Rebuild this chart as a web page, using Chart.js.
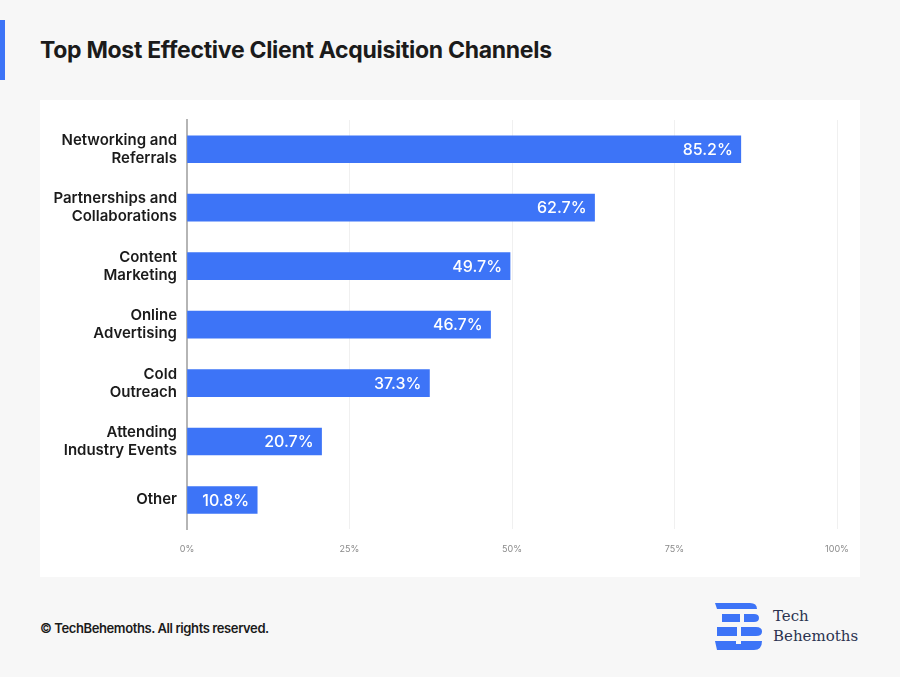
<!DOCTYPE html>
<html>
<head>
<meta charset="utf-8">
<script src="https://cdn.jsdelivr.net/npm/chart.js@4"></script>
<style>
    html, body { margin: 0; padding: 0; }
    body {
        width: 900px; height: 677px; background: #f7f7f7;
        position: relative; overflow: hidden;
        font-family: Inter, Roboto, sans-serif; color: #1b1b1b;
    }
    .accent { position: absolute; left: 0; top: 20px; width: 5px; height: 60px; background: #3d74f7; }
    h1 { position: absolute; left: 40px; top: 36px; margin: 0; font-size: 23px; font-weight: 700; letter-spacing: -0.3px; }
    .panel { position: absolute; left: 40px; top: 100px; width: 820px; height: 477px; background: #fff; }
    .footer { position: absolute; left: 40px; top: 620px; font-size: 13px; font-weight: 600; letter-spacing: -0.4px; }
    .logo { position: absolute; left: 714px; top: 602px; }
    .logo-text {
        position: absolute; left: 773px; top: 606px; font-family: "DejaVu Serif", serif;
        font-size: 15px; line-height: 20px; color: #2b3350;
    }
</style>
</head>
<body>
<div class="accent"></div>
<h1>Top Most Effective Client Acquisition Channels</h1>
<div class="panel"><canvas id="chart" width="820" height="477"></canvas></div>
<div class="footer">© TechBehemoths. All rights reserved.</div>
<svg class="logo" width="50" height="50" viewBox="0 0 50 50">
    <g fill="#3d74f7">
        <path d="M1 1 H36 Q43 1 43 7 H3 Z"/>
        <rect x="8" y="12" width="18" height="8"/>
        <path d="M30 12 H40 Q45 12 45 16 Q45 20 40 20 H30 Z"/>
        <rect x="3" y="25" width="20" height="9"/>
        <path d="M27 25 H42 Q48 25 48 29.5 Q48 34 42 34 H27 Z"/>
        <path d="M1 39 H22 V42 H27 V39 H48 Q48 48 40 48 H3 Z"/>
    </g>
</svg>
<div class="logo-text">Tech<br>Behemoths</div>
<script>
// ================= Data =================
const channels = [
    ["Networking and", "Referrals"],
    ["Partnerships and", "Collaborations"],
    ["Content", "Marketing"],
    ["Online", "Advertising"],
    ["Cold", "Outreach"],
    ["Attending", "Industry Events"],
    "Other"
];
const shares = [85.2, 62.7, 49.7, 46.7, 37.3, 20.7, 10.8];
const xTicks = [0, 25, 50, 75, 100];

// ================= Value labels =================
const valueLabels = {
    id: "valueLabels",
    afterDatasetsDraw(chart) {
        const ctx = chart.ctx;
        const meta = chart.getDatasetMeta(0);
        ctx.save();
        ctx.fillStyle = "#ffffff";
        ctx.font = "500 16px Inter, sans-serif";
        ctx.textAlign = "right";
        ctx.textBaseline = "middle";
        meta.data.forEach((bar, i) => {
            ctx.fillText(shares[i].toFixed(1) + "%", bar.x - 8, bar.y + 1);
        });
        ctx.restore();
    }
};

// ================= Chart =================
const ctx = document.getElementById("chart").getContext("2d");

new Chart(ctx, {
    type: "bar",
    data: {
        labels: channels,
        datasets: [{
            data: shares,
            backgroundColor: "#3d74f7",
            barThickness: 27
        }]
    },
    options: {
        indexAxis: "y",
        responsive: false,
        animation: false,
        layout: { padding: { top: 20, right: 23, bottom: 7, left: 0 } },
        plugins: {
            legend: { display: false },
            tooltip: { enabled: false }
        },
        scales: {
            x: {
                min: 0,
                max: 100,
                afterBuildTicks: (scale) => {
                    scale.ticks = xTicks.map(v => ({ value: v }));
                },
                afterFit: (scale) => {
                    scale.paddingLeft = 0;
                    scale.paddingRight = 0;
                },
                ticks: {
                    callback: v => v + "%",
                    color: "#8a8a8a",
                    font: { family: "Inter", size: 9 },
                    padding: 15
                },
                grid: { color: "#f0f0f0", drawTicks: false },
                border: { display: false }
            },
            y: {
                afterFit: (scale) => { scale.width = 147; },
                ticks: {
                    color: "#1b1b1b",
                    font: { family: "Inter", size: 15, weight: "600", lineHeight: 1.2 },
                    padding: 10
                },
                grid: { display: false, drawTicks: false },
                border: { color: "#b5b5b5", width: 2 }
            }
        }
    },
    plugins: [valueLabels]
});
</script>
</body>
</html>
